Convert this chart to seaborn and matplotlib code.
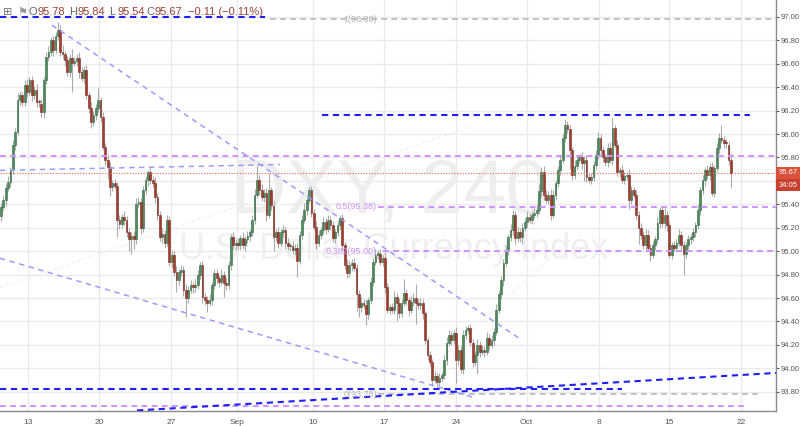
import numpy as np
import matplotlib
matplotlib.use("Agg")
import matplotlib.pyplot as plt
import matplotlib.transforms as mtransforms
import seaborn as sns

# DXY 4H candles (one close per bar, open = previous close)
first_open = 95.30
closes = [
    95.38, 95.44, 95.54, 95.59, 95.69, 95.91, 96.02, 96.29, 96.33, 96.27,
    96.42, 96.36, 96.46, 96.33, 96.38, 96.27, 96.26, 96.19, 96.46, 96.66,
    96.70, 96.80, 96.72, 96.84, 96.89, 96.70, 96.68, 96.63, 96.53, 96.65,
    96.61, 96.62, 96.65, 96.53, 96.48, 96.55, 96.33, 96.22, 96.10, 96.16,
    96.22, 96.29, 96.15, 95.89, 95.78, 95.72, 95.55, 95.58, 95.56, 95.27,
    95.23, 95.29, 95.27, 95.16, 95.10, 95.13, 95.10, 95.40, 95.42, 95.20,
    95.52, 95.61, 95.68, 95.61, 95.58, 95.46, 95.31, 95.12, 95.15, 95.07,
    95.27, 94.91, 94.97, 94.82, 94.75, 94.82, 94.84, 94.67, 94.60, 94.67,
    94.71, 94.69, 94.71, 94.80, 94.88, 94.61, 94.58, 94.56, 94.58, 94.71,
    94.81, 94.77, 94.74, 94.80, 94.73, 94.71, 94.88, 95.12, 95.05, 95.07,
    95.05, 95.11, 95.05, 95.10, 95.13, 95.16, 95.27, 95.48, 95.61, 95.52,
    95.46, 95.50, 95.31, 95.52, 95.39, 95.12, 95.16, 95.07, 95.16, 95.18,
    95.07, 95.04, 95.04, 95.01, 95.03, 94.92, 95.14, 95.27, 95.35, 95.44,
    95.52, 95.33, 95.21, 95.07, 95.14, 95.18, 95.25, 95.19, 95.27, 95.22,
    95.11, 95.16, 95.22, 95.28, 95.05, 94.88, 94.81, 94.88, 94.90, 94.86,
    94.63, 94.52, 94.56, 94.54, 94.46, 94.58, 94.74, 94.91, 94.97, 94.98,
    94.91, 94.94, 94.69, 94.50, 94.52, 94.50, 94.61, 94.56, 94.47, 94.56,
    94.64, 94.58, 94.50, 94.57, 94.60, 94.56, 94.54, 94.56, 94.47, 94.24,
    94.11, 94.05, 93.90, 93.93, 93.88, 93.92, 93.94, 94.07, 94.22, 94.28,
    94.24, 94.30, 94.07, 94.16, 93.99, 94.28, 94.33, 94.34, 94.22, 94.05,
    94.11, 94.20, 94.14, 94.16, 94.14, 94.26, 94.20, 94.24, 94.31, 94.50,
    94.63, 94.75, 94.90, 95.01, 95.12, 95.18, 95.31, 95.11, 95.16, 95.12,
    95.20, 95.25, 95.29, 95.27, 95.31, 95.33, 95.35, 95.51, 95.68, 95.48,
    95.44, 95.48, 95.31, 95.48, 95.58, 95.69, 95.78, 95.97, 96.08, 96.04,
    95.86, 95.65, 95.73, 95.78, 95.80, 95.75, 95.78, 95.63, 95.61, 95.63,
    95.74, 95.82, 95.97, 95.86, 95.80, 95.76, 95.88, 95.78, 96.05, 95.91,
    95.68, 95.69, 95.61, 95.64, 95.65, 95.44, 95.52, 95.48, 95.31, 95.20,
    95.14, 95.05, 95.14, 95.03, 94.97, 95.05, 95.10, 95.24, 95.35, 95.24,
    95.31, 95.22, 94.97, 95.05, 95.03, 95.07, 95.14, 95.05, 94.98, 95.05,
    95.10, 95.12, 95.16, 95.22, 95.35, 95.52, 95.61, 95.69, 95.65, 95.72,
    95.50, 95.71, 95.88, 95.97, 95.95, 95.92, 95.91, 95.78, 95.67,
]
# wick lengths above / below the body, in hundredths
up_wick = [
    3, 4, 3, 5, 3, 4, 3, 6, 4, 3,  4, 5, 3, 4, 3, 5, 3, 4, 3, 4,
    5, 3, 4, 3, 7, 4, 6, 3, 4, 3,  8, 4, 3, 5, 4, 3, 4, 3, 5, 4,
    4, 10, 3, 4, 3, 5, 4, 3, 4, 3,  4, 3, 5, 3, 4, 3, 4, 5, 4, 3,
    4, 3, 1, 4, 3, 5, 4, 3, 5, 3,  4, 3, 4, 3, 5, 3, 4, 3, 5, 3,
    4, 3, 5, 4, 3, 4, 3, 4, 5, 3,  4, 4, 3, 5, 3, 4, 4, 3, 4, 3,
    4, 3, 5, 3, 4, 3, 4, 5, 13, 4,  5, 3, 4, 15, 3, 4, 3, 5, 3, 4,
    3, 4, 3, 5, 3, 4, 3, 4, 6, 4,  3, 4, 3, 5, 4, 3, 4, 3, 4, 3,
    4, 3, 5, 3, 4, 3, 5, 4, 3, 4,  3, 4, 5, 3, 4, 3, 4, 3, 5, 3,
    4, 3, 5, 4, 3, 4, 5, 3, 4, 3,  12, 4, 3, 5, 4, 12, 3, 4, 3, 2,
    3, 4, 3, 5, 3, 4, 3, 4, 5, 5,  4, 3, 5, 4, 3, 5, 3, 3, 4, 3,
    4, 5, 3, 4, 3, 5, 3, 4, 3, 5,  3, 4, 3, 4, 3, 5, 4, 3, 5, 4,
    4, 3, 5, 4, 3, 4, 5, 6, 4, 5,  4, 3, 5, 4, 3, 4, 3, 4, 5, 3,
    4, 3, 5, 4, 3, 5, 3, 4, 3, 4,  3, 4, 5, 3, 4, 3, 4, 5, 10, 3,
    4, 3, 5, 4, 3, 5, 4, 3, 4, 3,  4, 3, 5, 4, 3, 4, 3, 5, 3, 4,
    6, 3, 4, 3, 4, 3, 5, 3, 4, 3,  4, 3, 4, 3, 5, 3, 4, 3, 5, 3,
    4, 3, 4, 4, 11, 3, 4, 3, 6,
]
dn_wick = [
    4, 3, 5, 3, 4, 3, 5, 3, 4, 3,  3, 4, 3, 5, 3, 4, 3, 4, 5, 3,
    4, 3, 5, 3, 4, 3, 4, 5, 3, 4,  25, 3, 4, 5, 3, 4, 3, 4, 5, 3,
    4, 3, 5, 3, 4, 10, 8, 4, 3, 15,  4, 3, 5, 4, 10, 12, 8, 4, 3, 5,
    4, 3, 5, 4, 3, 5, 4, 3, 5, 4,  3, 4, 5, 3, 10, 4, 3, 5, 16, 4,
    3, 5, 4, 3, 4, 5, 4, 8, 3, 4,  3, 4, 5, 3, 12, 4, 3, 4, 3, 4,
    3, 4, 3, 5, 3, 4, 3, 4, 3, 4,  3, 4, 5, 3, 4, 12, 3, 4, 3, 4,
    5, 3, 4, 3, 4, 14, 3, 4, 3, 4,  3, 4, 3, 5, 3, 4, 3, 4, 3, 4,
    3, 4, 3, 4, 5, 3, 4, 3, 5, 3,  14, 8, 4, 3, 9, 4, 3, 4, 3, 4,
    3, 4, 5, 3, 4, 3, 4, 16, 4, 3,  3, 4, 5, 3, 4, 18, 3, 4, 5, 3,
    4, 3, 5, 3, 4, 3, 4, 3, 4, 3,  4, 3, 20, 4, 3, 4, 3, 4, 3, 4,
    3, 16, 4, 3, 4, 3, 4, 3, 4, 3,  3, 4, 5, 3, 4, 3, 4, 5, 3, 4,
    6, 3, 4, 3, 4, 3, 4, 3, 5, 4,  3, 4, 4, 3, 4, 3, 4, 3, 4, 3,
    16, 4, 3, 4, 3, 5, 15, 4, 3, 4,  3, 4, 3, 5, 4, 3, 4, 3, 4, 3,
    4, 5, 3, 4, 3, 8, 4, 3, 4, 14,  4, 3, 4, 3, 5, 3, 4, 3, 4, 3,
    4, 5, 3, 4, 3, 4, 3, 5, 18, 4,  3, 4, 3, 4, 3, 4, 3, 5, 3, 4,
    3, 4, 3, 4, 3, 4, 3, 4, 13,
]

# x axis: bar number of each week start
week_pos = [11.5, 41.4, 71.7, 99.6, 131.8, 161.7, 192.0, 221.8, 252.2, 282.0, 312.2]
week_labels = ["13", "20", "27", "Sep", "10", "17", "24", "Oct", "8", "15", "22"]

# header values
ohlc_labels = ["O", "H", "L", "C"]
ohlc_values = ["95.78", "95.84", "95.54", "95.67"]
change_text = "\u22120.11 (\u22120.11%)"
last_price = 95.67
countdown = "34:05"

# drawings: (bar start, bar end, price start, price end)
dark_blue_lines = [(-0.4, 111.4, 97.00, 97.00), (135.4, 316.0, 96.16, 96.16),
                   (-0.4, 262.0, 93.82, 93.82), (57.4, 327.0, 93.64, 93.96)]
light_blue_lines = [(21.5, 219.8, 96.93, 94.24), (-0.4, 198.7, 94.94, 93.755),
                    (-0.4, 117.7, 95.69, 95.74)]
purple_lines = [(-0.4, 327.0, 95.81, 95.81), (159.1, 327.0, 95.38, 95.38),
                (161.2, 327.0, 95.00, 95.00), (-0.4, 315.2, 93.68, 93.68)]
gray_lines = [(113.5, 327.0, 96.98, 96.98), (159.1, 319.5, 93.78, 93.78)]
faint_lines = [(-0.4, 198.0, 94.69, 96.06), (165.0, 240.0, 93.70, 95.10)]
fib_labels = [("1(96.98)", 96.98, "#b4b4b4"), ("0(93.78)", 93.78, "#b4b4b4"),
              ("0.5(95.38)", 95.38, "#cf93ff"), ("0.382(95.00)", 95.00, "#cf93ff")]
fib_label_x = 158.6

sns.set_theme(style="white")
plt.rcParams['font.family'] = ['Liberation Sans', 'DejaVu Sans']

W, H = 800, 426
fig = plt.figure(figsize=(W / 100, H / 100), dpi=100)
ax = fig.add_axes([0, 15 / H, 776 / W, 411 / H])
ax.set_xlim(-0.42, 327.0)
ax.set_ylim(93.635, 97.145)

opens = np.array([first_open] + closes[:-1])
closes_a = np.array(closes)
highs = np.maximum(opens, closes_a) + np.array(up_wick) / 100
lows = np.minimum(opens, closes_a) - np.array(dn_wick) / 100
idx = np.arange(len(closes_a))
rising = closes_a >= opens

# watermark
ax.text(164.1, 95.50, "DXY, 240", fontsize=55, color="#eeeeee",
        ha="center", va="center", zorder=0.6)
ax.text(165.8, 95.01, "U.S. Dollar Currency Index", fontsize=26, color="#efefef",
        ha="center", va="center", zorder=0.6)

# candles
ax.vlines(idx, lows, highs, color="#ababab", lw=0.8, zorder=2)
body = np.where(np.abs(closes_a - opens) < 0.012, 0.012, closes_a - opens)
ax.bar(idx[rising], body[rising], bottom=opens[rising], width=0.74,
       color="#4f8a5e", edgecolor="#2f6a40", linewidth=0.4, zorder=3)
ax.bar(idx[~rising], body[~rising], bottom=opens[~rising], width=0.74,
       color="#a33c2c", edgecolor="#7a2a1f", linewidth=0.4, zorder=3)

def draw(lines, color, lw, dashes, z=4):
    for x0, x1, y0, y1 in lines:
        ax.plot([x0, x1], [y0, y1], color=color, lw=lw, dashes=dashes,
                solid_capstyle="butt", zorder=z)

draw(faint_lines, "#e2e2e2", 0.8, (1, 2), z=1)
draw(gray_lines, "#c2c2c2", 1.4, (3, 2.2))
draw(purple_lines, "#cf93ff", 1.4, (3, 2.2))
draw(light_blue_lines, "#9c9cff", 1.1, (3.5, 3))
draw(dark_blue_lines, "#1f1fff", 1.5, (3, 2.2))

for text, price, col in fib_labels:
    ax.text(fib_label_x, price, text, fontsize=6.5, color=col, ha="right",
            va="center", zorder=5)

# last price line
ax.axhline(last_price, color="#e07b70", lw=0.9, ls=(0, (1, 1.2)), zorder=4)

# axes styling
yt = np.round(np.arange(93.8, 97.01, 0.2), 2)
ax.set_yticks(yt)
ax.set_yticklabels([f"{v:.2f}" for v in yt])
ax.set_xticks(week_pos)
ax.set_xticklabels(week_labels)
ax.yaxis.tick_right()
ax.tick_params(axis="both", labelsize=5.5, colors="#555555", length=2.5, width=0.8,
               direction="out", pad=1)
ax.tick_params(axis="x", labelsize=6, pad=3)
ax.grid(True, color="#ebebeb", lw=1)
ax.set_axisbelow(True)
for side in ["top", "left"]:
    ax.spines[side].set_visible(False)
for side in ["right", "bottom"]:
    ax.spines[side].set_color("#8a8a8a")
    ax.spines[side].set_linewidth(1)

# price tag on the right axis
tr = mtransforms.blended_transform_factory(ax.transAxes, ax.transData)
ax.text(1.003, last_price, f"{last_price:.2f}", transform=tr, fontsize=5.5,
        color="white", ha="left", va="center", clip_on=False, zorder=6,
        bbox=dict(boxstyle="square,pad=0.3", fc="#d9503b", ec="none"))
ax.text(1.003, last_price - 0.105, countdown, transform=tr, fontsize=5.5,
        color="white", ha="left", va="center", clip_on=False, zorder=6,
        bbox=dict(boxstyle="square,pad=0.3", fc="#c8402f", ec="none"))

# header line
hy = 1 - 12 / H
fig.text(3 / W, hy, "\u229e", fontsize=8, color="#777777", va="center",
         family=["DejaVu Sans"])
fig.text(17 / W, hy, "\u2691", fontsize=8, color="#999999", va="center",
         family=["DejaVu Sans"])
for lab, val, px in zip(ohlc_labels, ohlc_values, [29, 69, 109, 146]):
    fig.text(px / W, hy, lab, fontsize=8, color="#666666", va="center")
    fig.text((px + 8.5) / W, hy, val, fontsize=8, color="#9a4436", va="center")
fig.text(188 / W, hy, change_text, fontsize=8, color="#9a4436", va="center")

fig.savefig("out.png", dpi=100)
